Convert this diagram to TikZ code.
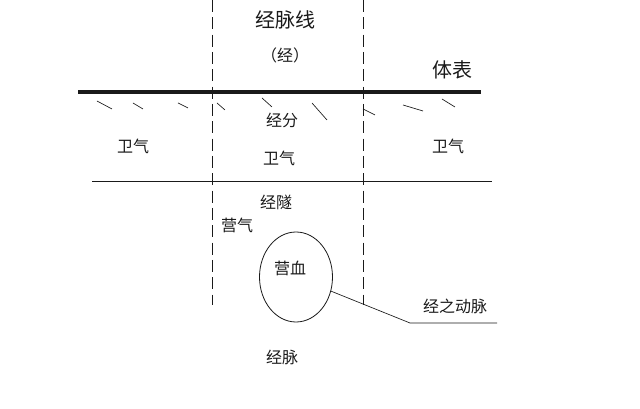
\documentclass[tikz,border=0pt]{standalone}
\usepackage{fontspec}
\setmainfont{Noto Sans CJK SC}
\definecolor{mdInk}{HTML}{1A1A1A}
\usetikzlibrary{calc,positioning,shapes.geometric}

\tikzset{
  lbl/.style={font=\fontsize{12}{14}\selectfont, text=mdInk, inner sep=1pt},
  biglbl/.style={font=\fontsize{15}{18}\selectfont, text=mdInk, inner sep=1pt},
  hash/.style={mdInk, line width=0.5pt},
}

\begin{document}
\begin{tikzpicture}[x=0.75pt, y=-0.75pt]
  \useasboundingbox (0,0) rectangle (640,409);
  % channel borders
  \draw[mdInk, dash pattern=on 9pt off 4pt] (212,0) -- (212,305);
  \draw[mdInk, dash pattern=on 9pt off 4pt] (363,0) -- (363,305);
  % body surface and lower boundary
  \draw[mdInk, line width=2.4pt] (78,92) -- (481,92);
  \draw[mdInk, line width=0.6pt] (92,181) -- (492,181);
  % small hatch marks under the surface
  \foreach \xa/\ya/\xb/\yb in {97/101/112/109, 133/103/143/109, 178/103/188/108,
      217/103/225/110, 262/98/272/107, 312/103/327/120, 363/109/375/115,
      403/105/423/111, 442/99/455/107}
    \draw[hash] (\xa,\ya) -- (\xb,\yb);
  % labels
  \node[biglbl] (jmx) at (285,20) {经脉线};
  \node[lbl] (jing) at (285,55) {（经）};
  \node[biglbl] (tibiao) at (452,70) {体表};
  \node[lbl] (jingfen) at (282,120) {经分};
  \node[lbl] (wqL) at (133,146) {卫气};
  \node[lbl] (wqM) at (279,158) {卫气};
  \node[lbl] (wqR) at (448,146) {卫气};
  \node[lbl] (jingsui) at (276,202) {经隧};
  \node[lbl] (yingqi) at (237,225) {营气};
  \node[draw=mdInk, ellipse, line width=0.6pt, inner sep=0pt,
        minimum width=54.75pt, minimum height=67.5pt] (yingxue) at (296,277) {};
  \node[lbl] (yx) at (290,268) {营血};
  \node[lbl] (dongmai) at (455,306) {经之动脉};
  \node[lbl] (jingmai) at (282,357) {经脉};
  % leader to the pulsing vessel
  \coordinate (knee) at (410,323);
  \coordinate (tail) at (497,323);
  \draw[mdInk, line width=0.5pt] (yingxue.-22) -- (knee) -- (tail);
\end{tikzpicture}
\end{document}
